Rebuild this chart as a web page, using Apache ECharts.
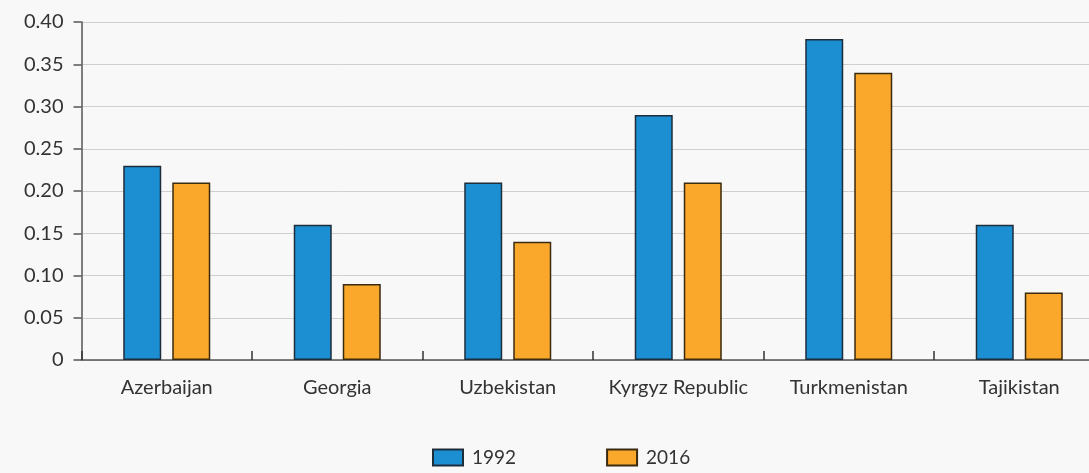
<!DOCTYPE html>
<html><head><meta charset="utf-8">
<script src="https://cdn.jsdelivr.net/npm/echarts@6/dist/echarts.min.js"></script>
<style>html,body{margin:0;padding:0;background:#f8f8f8;overflow:hidden;}#c{width:1106px;height:473px;}</style>
</head><body><div id="c"></div>
<script>
const categories = ['Azerbaijan','Georgia','Uzbekistan','Kyrgyz Republic','Turkmenistan','Tajikistan'];
const values1992 = [0.23,0.16,0.21,0.29,0.38,0.16];
const values2016 = [0.21,0.09,0.14,0.21,0.34,0.08];
const yTicks = {min:0,max:0.40,interval:0.05};
const chart = echarts.init(document.getElementById('c'));
const font = 'Lato, "Open Sans", sans-serif';
chart.setOption({
  backgroundColor:'#f8f8f8',
  animation:false,
  textStyle:{fontFamily:font},
  grid:{left:81.5,right:1.5,top:22,bottom:113,containLabel:false},
  legend:{
    bottom:1,left:427,itemWidth:30,itemHeight:16,itemGap:90,icon:'rect',
    textStyle:{fontFamily:font,fontSize:19,color:'#333',padding:[0,0,0,4]},
    data:['1992','2016']
  },
  xAxis:{
    type:'category',data:categories,
    axisLine:{show:true,lineStyle:{color:'#555',width:1.5}},
    axisTick:{show:true,inside:true,length:9,interval:0,lineStyle:{color:'#333',width:1.5}},
    axisLabel:{interval:0,fontFamily:font,fontSize:20,color:'#333',margin:18}
  },
  yAxis:{
    type:'value',min:yTicks.min,max:yTicks.max,interval:yTicks.interval,
    axisLine:{show:true,lineStyle:{color:'#555',width:1.5}},
    axisTick:{show:true,length:8,lineStyle:{color:'#555',width:1.5}},
    axisLabel:{fontFamily:font,fontSize:20,color:'#333',margin:18,
      formatter:v=> v===0?'0':v.toFixed(2)},
    splitLine:{lineStyle:{color:'#cfcfcf',width:1}}
  },
  series:[
    {name:'1992',type:'bar',data:values1992,barWidth:38,barGap:'29%',
     itemStyle:{color:'#1b8fd2',borderColor:'#1d2d3a',borderWidth:1.5}},
    {name:'2016',type:'bar',data:values2016,barWidth:38,
     itemStyle:{color:'#f9a82b',borderColor:'#3a2a10',borderWidth:1.5}}
  ]
});
</script></body></html>
